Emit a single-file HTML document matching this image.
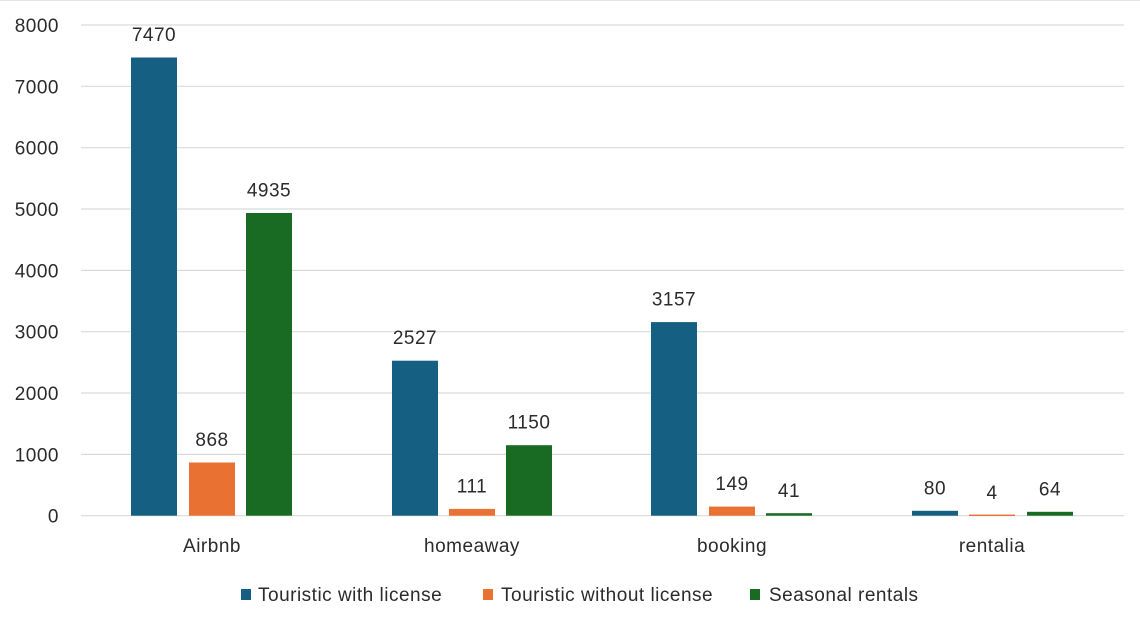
<!DOCTYPE html>
<html>
<head>
<meta charset="utf-8">
<style>
  html,body{margin:0;padding:0;background:#fff;}
  body{width:1140px;height:629px;overflow:hidden;}
  svg{display:block;}
  text{font-family:"Liberation Sans",sans-serif;fill:#2b2b2b;font-size:19px;letter-spacing:0.5px;}
</style>
</head>
<body>
<svg width="1140" height="629" viewBox="0 0 1140 629" xmlns="http://www.w3.org/2000/svg">
  <rect x="0" y="0" width="1140" height="629" fill="#fff"/>
  <line x1="0" y1="0.5" x2="1140" y2="0.5" stroke="#e3e3e3" stroke-width="1"/>
  <!-- gridlines -->
  <g stroke="#d9d9d9" stroke-width="1.2">
    <line x1="81" y1="25" x2="1124" y2="25"/>
    <line x1="81" y1="86.3" x2="1124" y2="86.3"/>
    <line x1="81" y1="147.7" x2="1124" y2="147.7"/>
    <line x1="81" y1="209" x2="1124" y2="209"/>
    <line x1="81" y1="270.4" x2="1124" y2="270.4"/>
    <line x1="81" y1="331.7" x2="1124" y2="331.7"/>
    <line x1="81" y1="393" x2="1124" y2="393"/>
    <line x1="81" y1="454.4" x2="1124" y2="454.4"/>
    <line x1="81" y1="515.7" x2="1124" y2="515.7"/>
  </g>
  <!-- y tick labels -->
  <g text-anchor="end">
    <text x="59" y="32">8000</text>
    <text x="59" y="93.3">7000</text>
    <text x="59" y="154.7">6000</text>
    <text x="59" y="216">5000</text>
    <text x="59" y="277.4">4000</text>
    <text x="59" y="338.7">3000</text>
    <text x="59" y="400">2000</text>
    <text x="59" y="461.4">1000</text>
    <text x="59" y="522.7">0</text>
  </g>
  <!-- bars -->
  <g>
    <rect x="131" y="57.5" width="46" height="458.2" fill="#156082"/>
    <rect x="189" y="462.5" width="46" height="53.2" fill="#E97132"/>
    <rect x="246" y="213" width="46" height="302.7" fill="#196B24"/>
    <rect x="392" y="360.7" width="46" height="155" fill="#156082"/>
    <rect x="449" y="508.9" width="46" height="6.8" fill="#E97132"/>
    <rect x="506" y="445.2" width="46" height="70.5" fill="#196B24"/>
    <rect x="651" y="322.1" width="46" height="193.6" fill="#156082"/>
    <rect x="709" y="506.6" width="46" height="9.1" fill="#E97132"/>
    <rect x="766" y="513.2" width="46" height="2.5" fill="#196B24"/>
    <rect x="912" y="510.8" width="46" height="4.9" fill="#156082"/>
    <rect x="969" y="514.6" width="46" height="1.4" fill="#E97132"/>
    <rect x="1027" y="511.8" width="46" height="3.9" fill="#196B24"/>
  </g>
  <!-- value labels -->
  <g text-anchor="middle">
    <text x="154" y="41">7470</text>
    <text x="212" y="446">868</text>
    <text x="269" y="196.5">4935</text>
    <text x="415" y="344">2527</text>
    <text x="472" y="492.5">111</text>
    <text x="529" y="428.5">1150</text>
    <text x="674" y="305.5">3157</text>
    <text x="732" y="490">149</text>
    <text x="789" y="497">41</text>
    <text x="935" y="494.5">80</text>
    <text x="992" y="499">4</text>
    <text x="1050" y="495.5">64</text>
  </g>
  <!-- category labels -->
  <g text-anchor="middle">
    <text x="212" y="552">Airbnb</text>
    <text x="472" y="552">homeaway</text>
    <text x="732" y="552">booking</text>
    <text x="992" y="552">rentalia</text>
  </g>
  <!-- legend -->
  <rect x="241" y="589" width="10" height="11" fill="#156082"/>
  <text x="258" y="601">Touristic with license</text>
  <rect x="483" y="589" width="10" height="11" fill="#E97132"/>
  <text x="501" y="601">Touristic without license</text>
  <rect x="750" y="589" width="10" height="11" fill="#196B24"/>
  <text x="769" y="601">Seasonal rentals</text>
</svg>
</body>
</html>
